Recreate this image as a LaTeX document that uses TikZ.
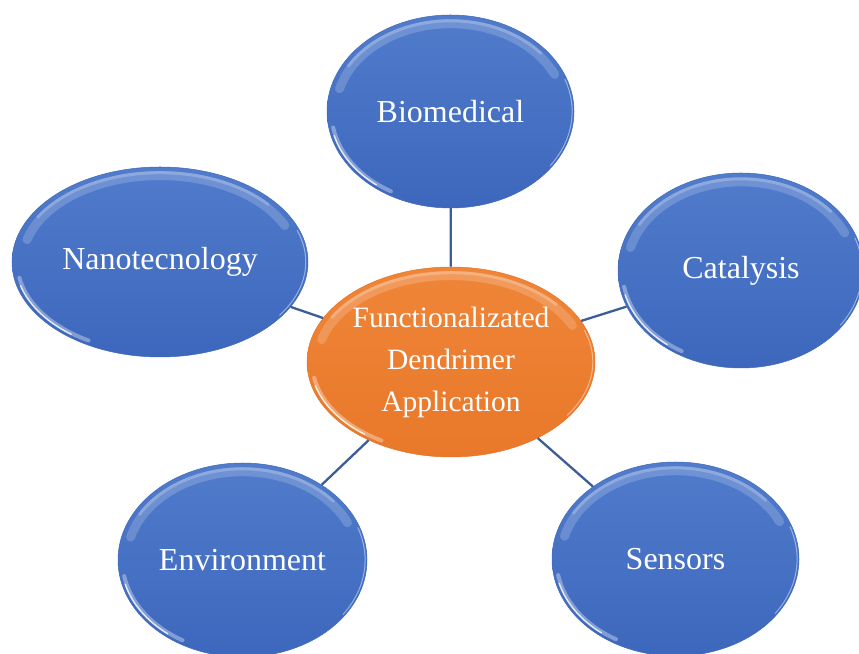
\documentclass[tikz,border=0pt]{standalone}
\usepackage{fontspec}
\setmainfont{Liberation Serif}
\usetikzlibrary{shapes.geometric, calc}
\definecolor{bubbletop}{HTML}{517CCC}
\definecolor{bubblebot}{HTML}{3C67BC}
\definecolor{bubbleedge}{HTML}{3F69B8}
\definecolor{coretop}{HTML}{EF8538}
\definecolor{corebot}{HTML}{E9782A}
\definecolor{coreedge}{HTML}{E47428}
\definecolor{linkblue}{HTML}{3D5D98}
\tikzset{
	x=1pt, y=1pt,
	glint/.style={path picture={
		% soft band under the top rim
		\draw[white, opacity=.18, line width=9pt, line cap=round]
			let \p1=(path picture bounding box.north east), \p2=(path picture bounding box.center),
			\n1={\x1-\x2}, \n2={\y1-\y2} in
			(\p2) ++(165:{0.93*\n1} and {0.91*\n2}) arc[start angle=165, end angle=25, x radius={0.93*\n1}, y radius={0.91*\n2}];
		\draw[white, opacity=.22, line width=3pt, line cap=round]
			let \p1=(path picture bounding box.north east), \p2=(path picture bounding box.center),
			\n1={\x1-\x2}, \n2={\y1-\y2} in
			(\p2) ++(150:{0.955*\n1} and {0.94*\n2}) arc[start angle=150, end angle=40, x radius={0.955*\n1}, y radius={0.94*\n2}];
		% bright streak on the lower left
		\draw[white, opacity=.35, line width=4pt, line cap=round]
			let \p1=(path picture bounding box.north east), \p2=(path picture bounding box.center),
			\n1={\x1-\x2}, \n2={\y1-\y2} in
			(\p2) ++(190:{0.965*\n1} and {0.955*\n2}) arc[start angle=190, end angle=240, x radius={0.965*\n1}, y radius={0.955*\n2}];
		\draw[white, opacity=.8, line width=1.4pt, line cap=round]
			let \p1=(path picture bounding box.north east), \p2=(path picture bounding box.center),
			\n1={\x1-\x2}, \n2={\y1-\y2} in
			(\p2) ++(195:{0.975*\n1} and {0.965*\n2}) arc[start angle=195, end angle=232, x radius={0.975*\n1}, y radius={0.965*\n2}];
		% thin light rim on the right
		\draw[white, opacity=.45, line width=1pt]
			let \p1=(path picture bounding box.north east), \p2=(path picture bounding box.center),
			\n1={\x1-\x2}, \n2={\y1-\y2} in
			(\p2) ++(-35:{0.985*\n1} and {0.98*\n2}) arc[start angle=-35, end angle=20, x radius={0.985*\n1}, y radius={0.98*\n2}];
	}},
	bubble/.style={ellipse, inner sep=0pt, text=white, glint,
		top color=bubbletop, bottom color=bubblebot, draw=bubbleedge, line width=.5pt,
		font=\fontsize{32}{38}\selectfont},
	core/.style={ellipse, inner sep=0pt, text=white, glint, align=center,
		top color=coretop, bottom color=corebot, draw=coreedge, line width=.5pt,
		font=\fontsize{29.5}{42}\selectfont},
	link/.style={draw=linkblue, line width=2.3pt}
}
\begin{document}
\begin{tikzpicture}
	\useasboundingbox (0,0) rectangle (859,653);
	\clip (0,0) rectangle (859,653);
	
	%Middle
	\node[core, minimum width=288, minimum height=190] (dend) at (451,291)
		{Functionalizated\\Dendrimer\\Application};
	
	%Top
	\node[bubble, minimum width=247, minimum height=193] (bio) at (450.5,541.5) {Biomedical};
	\node[bubble, minimum width=296, minimum height=190] (nano) at (160,391) {Nanotecnology};
	\node[bubble, minimum width=246, minimum height=195] (cat) at (741,382.5) {Catalysis};
	
	%Bottom
	\node[bubble, minimum width=249, minimum height=194] (env) at (242.5,93) {Environment};
	\node[bubble, minimum width=247, minimum height=194] (sens) at (675.5,94) {Sensors};
	
	\draw[link]
	(dend) -- (bio)
	(dend) -- (nano)
	(dend) -- (cat)
	(dend) -- (env)
	(dend) -- (sens)
	;
\end{tikzpicture}
\end{document}
